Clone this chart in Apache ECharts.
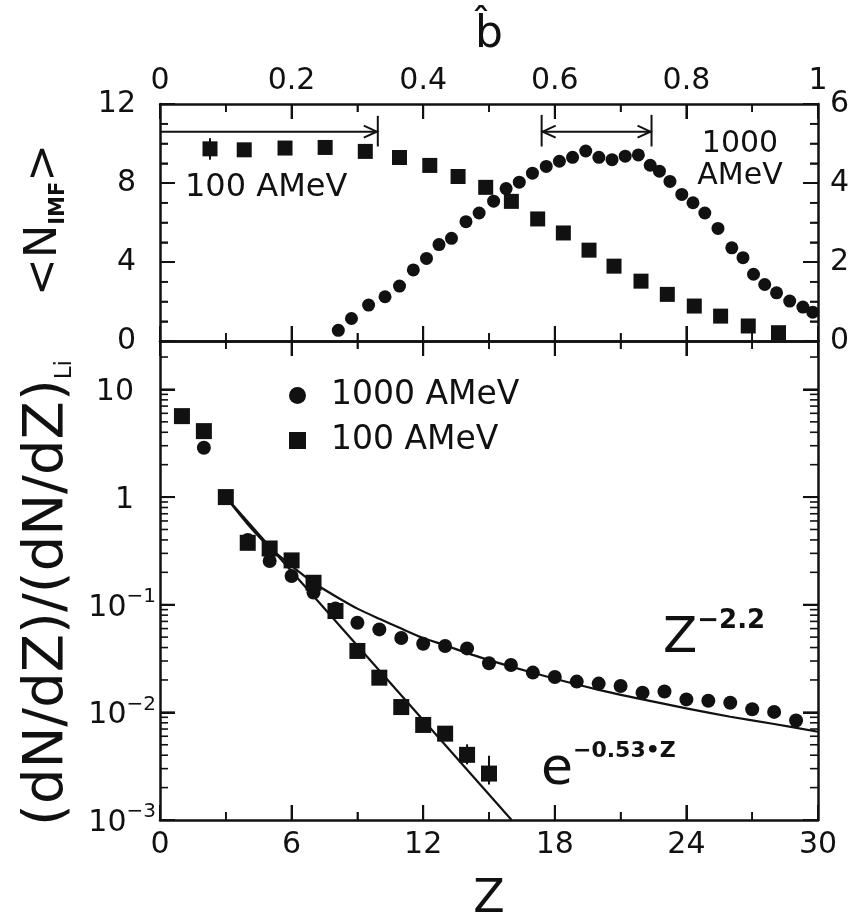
<!DOCTYPE html>
<html><head><meta charset="utf-8">
<script src="https://cdn.jsdelivr.net/npm/echarts@6/dist/echarts.min.js"></script>
<style>html,body{margin:0;padding:0;background:#fff}#c{width:858px;height:919px}</style>
</head><body><div id="c"></div>
<script>
// ---------- top panel: <N_IMF> vs reduced impact parameter ----------
const bImpact100 = [0.076,0.128,0.190,0.251,0.312,0.364,0.410,0.453,0.495,0.534,0.574,0.613,0.652,0.690,0.731,0.771,0.812,0.852,0.894,0.940];
const nImf100    = [9.73,9.68,9.77,9.80,9.60,9.29,8.89,8.33,7.78,7.07,6.18,5.47,4.60,3.79,3.03,2.36,1.77,1.26,0.76,0.42];
const bImpact1000 = [0.271,0.291,0.317,0.342,0.364,0.385,0.405,0.424,0.443,0.465,0.485,0.507,0.526,0.546,0.566,0.587,0.607,0.627,0.647,0.667,0.687,0.707,0.727,0.745,0.759,0.775,0.793,0.810,0.828,0.848,0.869,0.886,0.902,0.919,0.937,0.957,0.977,0.992];
const nImf1000    = [0.27,0.57,0.91,1.12,1.39,1.80,2.09,2.44,2.60,3.02,3.24,3.54,3.86,4.02,4.25,4.42,4.55,4.65,4.81,4.65,4.59,4.68,4.71,4.45,4.30,4.04,3.71,3.50,3.24,2.85,2.36,2.11,1.69,1.43,1.22,1.01,0.86,0.73];
const errTopB  = [0.076];
const errTopLo = [9.18];
const errTopHi = [10.27];
// impact-parameter range arrows (left-axis units)
const arrowFrom   = [0.0, 0.58];
const arrowTo     = [0.331, 0.747];
const arrowLevel  = [10.6, 10.6];
const arrowBarLo  = [9.85, 9.85];
const arrowBarHi  = [11.4, 11.45];
const arrowDouble = [false, true];

// ---------- bottom panel: (dN/dZ)/(dN/dZ)_Li vs Z ----------
const zCharge100 = [1,2,3,4,5,6,7,8,9,10,11,12,13,14,15];
const ratio100   = [5.65,4.1,1.0,0.376,0.333,0.258,0.16,0.0874,0.0372,0.021,0.0112,0.00764,0.00634,0.00403,0.0027];
const zCharge1000 = [2,3,4,5,6,7,8,9,10,11,12,13,14,15,16,17,18,19,20,21,22,23,24,25,26,27,28,29];
const ratio1000   = [2.87,0.98,0.40,0.255,0.185,0.13,0.092,0.068,0.059,0.049,0.0434,0.0413,0.0393,0.0286,0.0275,0.0234,0.0213,0.0193,0.0185,0.0176,0.0152,0.0156,0.0132,0.0128,0.0123,0.0107,0.0101,0.0084];
const errZ100  = [14, 15];
const errLo100 = [0.00329, 0.00214];
const errHi100 = [0.00505, 0.00396];
const expFitZ     = [3, 16.03];
const expFitRatio = [1.0, 0.001];
const powFitZ     = [3, 4, 5, 6, 7, 8, 9, 10, 11, 12, 13, 14, 15, 16, 18, 20, 22, 24, 26, 28, 30];
const powFitRatio = [1.0, 0.56, 0.34, 0.23, 0.16, 0.12, 0.092, 0.074, 0.060, 0.049, 0.042, 0.0355, 0.0306, 0.0266, 0.0205, 0.0162, 0.0132, 0.0109, 0.0091, 0.0078, 0.0066];

// ---------- ticks and tick labels ----------
const bTickValues = [0, 0.2, 0.4, 0.6, 0.8, 1];
const bTickLabels = ['0', '0.2', '0.4', '0.6', '0.8', '1'];
const bMinorTicks = [0.1, 0.3, 0.5, 0.7, 0.9];
const zTickValues = [0, 6, 12, 18, 24, 30];
const zTickLabels = ['0', '6', '12', '18', '24', '30'];
const zMinorTicks = [3, 9, 15, 21, 27];
const nLeftTickValues  = [0, 4, 8, 12];
const nLeftTickLabels  = ['0', '4', '8', '12'];
const nMinorTicks      = [1, 2, 3, 5, 6, 7, 9, 10, 11];
const nRightTickValues = [0, 2, 4, 6];
const nRightTickLabels = ['0', '2', '4', '6'];
const logTickExps  = [-3, -2, -1, 0, 1];
const logTickBase  = ['10', '10', '10', '1', '10'];
const logTickSup   = ['\u22123', '\u22122', '\u22121', '', ''];
const logMinorTicks = [0.002,0.003,0.004,0.005,0.006,0.007,0.008,0.009,
  0.02,0.03,0.04,0.05,0.06,0.07,0.08,0.09,
  0.2,0.3,0.4,0.5,0.6,0.7,0.8,0.9,
  2,3,4,5,6,7,8,9,20];
const ratioMin = 0.001;
const decadeSpan = 4.45;   // the ratio axis runs from 10^-3 up to about 28

const FONT = 'DejaVu Sans';
const INK = '#111';
// position on the ratio axis: number of decades above ratioMin
const dec = v => Math.log10(v / ratioMin);
const decExp = Math.round(Math.log10(ratioMin));
const decMajorTicks = logTickExps.map(e => e - decExp);

function lookup(vals, labels, v) {
  for (let i = 0; i < vals.length; i++) if (Math.abs(vals[i] - v) < 1e-6) return labels[i];
  return '';
}
function axisBase(extra) {
  return Object.assign({
    type: 'value',
    axisLine: { show: true, onZero: false, lineStyle: { color: INK, width: 2.5 } },
    axisTick: { show: true, inside: true, length: 15, lineStyle: { color: INK, width: 2 } },
    minorTick: { show: true, splitNumber: 2, length: 8, lineStyle: { color: INK, width: 1.6 } },
    splitLine: { show: false },
    axisLabel: { show: false }
  }, extra);
}
const labelStyle = { show: true, color: INK, fontFamily: FONT, fontSize: 30 };
const yMinor4 = { show: true, splitNumber: 4, length: 8, lineStyle: { color: INK, width: 1.6 } };

// tick marks drawn along the frame of a grid, through that grid's axes
function tickSeries(xi, yi, dir, vals, xExt, yExt, len, w) {
  return {
    type: 'custom', xAxisIndex: xi, yAxisIndex: yi, clip: false, silent: true, z: 5,
    data: vals.map(v => dir === 'x' ? [v, yExt[0]] : [xExt[0], v]),
    renderItem: (params, api) => {
      const st = { fill: INK };
      if (dir === 'x') {
        const v = api.value(0);
        const b = api.coord([v, yExt[0]]), t = api.coord([v, yExt[1]]);
        return { type: 'group', children: [
          { type: 'rect', shape: { x: b[0] - w / 2, y: b[1] - len, width: w, height: len }, style: st },
          { type: 'rect', shape: { x: t[0] - w / 2, y: t[1], width: w, height: len }, style: st }
        ] };
      }
      const v = api.value(1);
      const l = api.coord([xExt[0], v]), r = api.coord([xExt[1], v]);
      return { type: 'group', children: [
        { type: 'rect', shape: { x: l[0], y: l[1] - w / 2, width: len, height: w }, style: st },
        { type: 'rect', shape: { x: r[0] - len, y: r[1] - w / 2, width: len, height: w }, style: st }
      ] };
    }
  };
}

const chart = echarts.init(document.getElementById('c'));

chart.setOption({
  animation: false,
  grid: [
    { left: 160, top: 104, width: 658, height: 237, outerBoundsMode: 'none', containLabel: false },
    { left: 160, top: 341, width: 658, height: 479, outerBoundsMode: 'none', containLabel: false }
  ],
  xAxis: [
    axisBase({ gridIndex: 0, position: 'top', min: 0, max: 1, interval: 0.2,
      axisLabel: Object.assign({}, labelStyle, { margin: 8, formatter: v => lookup(bTickValues, bTickLabels, v) }),
      name: 'b\u0302', nameLocation: 'middle', nameGap: 46,
      nameTextStyle: { color: INK, fontFamily: FONT, fontSize: 44 } }),
    axisBase({ gridIndex: 0, position: 'bottom', min: 0, max: 1, interval: 0.2 }),
    axisBase({ gridIndex: 1, position: 'bottom', min: 0, max: 30, interval: 6,
      axisLabel: Object.assign({}, labelStyle, { margin: 10, formatter: v => lookup(zTickValues, zTickLabels, v) }) }),
    axisBase({ gridIndex: 1, position: 'top', min: 0, max: 30, interval: 6 })
  ],
  yAxis: [
    axisBase({ gridIndex: 0, position: 'left', min: 0, max: 12, interval: 4, minorTick: yMinor4,
      axisLabel: Object.assign({}, labelStyle, { margin: 24, formatter: v => lookup(nLeftTickValues, nLeftTickLabels, v) }) }),
    axisBase({ gridIndex: 0, position: 'right', min: 0, max: 6, interval: 2, minorTick: yMinor4,
      axisLabel: Object.assign({}, labelStyle, { margin: 12, formatter: v => lookup(nRightTickValues, nRightTickLabels, v) }) }),
    axisBase({ gridIndex: 1, position: 'left', min: 0, max: decadeSpan, interval: 1,
      minorTick: { show: false },
      axisTick: { show: true, inside: true, length: 15, customValues: decMajorTicks, lineStyle: { color: INK, width: 2 } },
      axisLabel: {
        show: true, color: INK, fontFamily: FONT, fontSize: 30, margin: 4, customValues: decMajorTicks,
        formatter: v => {
          const k = Math.round(v);
          if (Math.abs(v - k) > 0.01) return '';
          const i = logTickExps.indexOf(k + decExp);
          if (i < 0) return '';
          return '{b|' + logTickBase[i] + '}' + (logTickSup[i] ? '{s|' + logTickSup[i] + '}' : '{e| }');
        },
        rich: {
          b: { fontFamily: FONT, fontSize: 30, color: INK, lineHeight: 36, verticalAlign: 'bottom' },
          s: { fontFamily: FONT, fontSize: 20, color: INK, lineHeight: 20, verticalAlign: 'top' },
          e: { fontFamily: FONT, fontSize: 20, width: 22 }
        }
      } }),
    axisBase({ gridIndex: 1, position: 'right', min: 0, max: decadeSpan, interval: 1,
      minorTick: { show: false },
      axisTick: { show: true, inside: true, length: 15, customValues: decMajorTicks, lineStyle: { color: INK, width: 2 } } })
  ],
  legend: {
    orient: 'vertical', left: 284, top: 374, itemWidth: 17, itemHeight: 17, itemGap: 12,
    data: [{ name: '1000 AMeV', icon: 'circle' }, { name: '100 AMeV', icon: 'rect' }],
    formatter: n => '{g| }' + n,
    textStyle: { color: INK, fontFamily: FONT, fontSize: 33, rich: { g: { width: 20, fontSize: 10 } } }
  },
  series: [
    // ----- frame ticks -----
    tickSeries(0, 0, 'x', bTickValues, [0, 1], [0, 12], 15, 2),
    tickSeries(0, 0, 'x', bMinorTicks, [0, 1], [0, 12], 8, 1.6),
    tickSeries(0, 0, 'y', nLeftTickValues, [0, 1], [0, 12], 15, 2),
    tickSeries(0, 0, 'y', nMinorTicks, [0, 1], [0, 12], 8, 1.6),
    tickSeries(2, 2, 'x', zTickValues, [0, 30], [0, decadeSpan], 15, 2),
    tickSeries(2, 2, 'x', zMinorTicks, [0, 30], [0, decadeSpan], 8, 1.6),
    tickSeries(2, 2, 'y', decMajorTicks, [0, 30], [0, decadeSpan], 15, 2),
    tickSeries(2, 2, 'y', logMinorTicks.map(dec), [0, 30], [0, decadeSpan], 8, 1.6),

    // ----- top panel -----
    { type: 'custom', name: 'arrows', xAxisIndex: 0, yAxisIndex: 0, clip: false, silent: true,
      data: arrowFrom.map((f, i) => [f, arrowLevel[i]]),
      renderItem: (params, api) => {
        const i = params.dataIndex;
        const p1 = api.coord([arrowFrom[i], arrowLevel[i]]);
        const p2 = api.coord([arrowTo[i], arrowLevel[i]]);
        const st = { stroke: INK, lineWidth: 2, fill: null };
        const ch = [
          { type: 'line', shape: { x1: p1[0], y1: p1[1], x2: p2[0], y2: p2[1] }, style: st },
          { type: 'polyline', shape: { points: [[p2[0] - 14, p2[1] - 6], [p2[0] - 1, p2[1]], [p2[0] - 14, p2[1] + 6]] }, style: st }
        ];
        const b2lo = api.coord([arrowTo[i], arrowBarLo[i]]), b2hi = api.coord([arrowTo[i], arrowBarHi[i]]);
        ch.push({ type: 'line', shape: { x1: b2lo[0], y1: b2lo[1], x2: b2hi[0], y2: b2hi[1] }, style: st });
        if (arrowDouble[i]) {
          ch.push({ type: 'polyline', shape: { points: [[p1[0] + 14, p1[1] - 6], [p1[0] + 1, p1[1]], [p1[0] + 14, p1[1] + 6]] }, style: st });
          const b1lo = api.coord([arrowFrom[i], arrowBarLo[i]]), b1hi = api.coord([arrowFrom[i], arrowBarHi[i]]);
          ch.push({ type: 'line', shape: { x1: b1lo[0], y1: b1lo[1], x2: b1hi[0], y2: b1hi[1] }, style: st });
        }
        return { type: 'group', children: ch };
      } },
    { type: 'custom', name: 'errTop', xAxisIndex: 0, yAxisIndex: 0, clip: false, silent: true,
      data: errTopB.map((b, i) => [b, errTopLo[i], errTopHi[i]]),
      renderItem: (params, api) => {
        const lo = api.coord([api.value(0), api.value(1)]), hi = api.coord([api.value(0), api.value(2)]);
        return { type: 'line', shape: { x1: lo[0], y1: lo[1], x2: hi[0], y2: hi[1] }, style: { stroke: INK, lineWidth: 2 } };
      } },
    { type: 'scatter', name: '1000 AMeV', xAxisIndex: 0, yAxisIndex: 1, symbol: 'circle', symbolSize: 13,
      itemStyle: { color: INK, opacity: 1 }, data: bImpact1000.map((b, i) => [b, nImf1000[i]]) },
    { type: 'scatter', name: '100 AMeV', xAxisIndex: 0, yAxisIndex: 0, symbol: 'rect', symbolSize: 15,
      itemStyle: { color: INK, opacity: 1 }, data: bImpact100.map((b, i) => [b, nImf100[i]]) },

    // ----- bottom panel -----
    { type: 'line', name: 'expFit', xAxisIndex: 2, yAxisIndex: 2, showSymbol: false, silent: true,
      lineStyle: { color: INK, width: 2.2 }, data: expFitZ.map((z, i) => [z, dec(expFitRatio[i])]) },
    { type: 'line', name: 'powFit', xAxisIndex: 2, yAxisIndex: 2, showSymbol: false, silent: true,
      smooth: 0.2, lineStyle: { color: INK, width: 2.2 }, data: powFitZ.map((z, i) => [z, dec(powFitRatio[i])]) },
    { type: 'custom', name: 'errBot', xAxisIndex: 2, yAxisIndex: 2, clip: false, silent: true,
      data: errZ100.map((z, i) => [z, dec(errLo100[i]), dec(errHi100[i])]),
      renderItem: (params, api) => {
        const lo = api.coord([api.value(0), api.value(1)]), hi = api.coord([api.value(0), api.value(2)]);
        return { type: 'line', shape: { x1: lo[0], y1: lo[1], x2: hi[0], y2: hi[1] }, style: { stroke: INK, lineWidth: 2 } };
      } },
    { type: 'scatter', name: '1000 AMeV', xAxisIndex: 2, yAxisIndex: 2, symbol: 'circle', symbolSize: 14,
      itemStyle: { color: INK, opacity: 1 }, data: zCharge1000.map((z, i) => [z, dec(ratio1000[i])]) },
    { type: 'scatter', name: '100 AMeV', xAxisIndex: 2, yAxisIndex: 2, symbol: 'rect', symbolSize: 16,
      itemStyle: { color: INK, opacity: 1 }, data: zCharge100.map((z, i) => [z, dec(ratio100[i])]) }
  ],
  graphic: [
    { type: 'text', left: 185, top: 172, style: { text: '100 AMeV', fill: INK, font: '32px "DejaVu Sans"' } },
    { type: 'text', x: 740, y: 160, style: { text: '1000\nAMeV', fill: INK, font: '30px "DejaVu Sans"', align: 'center', verticalAlign: 'middle', lineHeight: 32 } },
    { type: 'text', x: 489, y: 900, style: { text: 'Z', fill: INK, font: '46px "DejaVu Sans"', align: 'center', verticalAlign: 'middle' } },
    { type: 'text', x: 44, y: 220, rotation: Math.PI / 2,
      style: { text: '<N{sub|IMF}>', fill: INK, font: '45px "DejaVu Sans"', lineHeight: 50, align: 'center', verticalAlign: 'middle',
        rich: { sub: { fontFamily: FONT, fontSize: 21, fontWeight: 'bold', fill: INK, lineHeight: 22, verticalAlign: 'bottom' } } } },
    { type: 'text', x: 47, y: 593, rotation: Math.PI / 2,
      style: { text: '(dN/dZ)/(dN/dZ){sub|Li}', fill: INK, font: '56px "DejaVu Sans"', lineHeight: 60, align: 'center', verticalAlign: 'middle',
        rich: { sub: { fontFamily: FONT, fontSize: 23, fill: INK, lineHeight: 24, verticalAlign: 'bottom' } } } },
    { type: 'text', x: 663, y: 636,
      style: { text: '{b|Z}{s|\u22122.2}', fill: INK, align: 'left', verticalAlign: 'middle',
        rich: { b: { fontFamily: FONT, fontSize: 50, fill: INK, lineHeight: 56, verticalAlign: 'bottom' },
                s: { fontFamily: FONT, fontSize: 26, fontWeight: 'bold', fill: INK, lineHeight: 26, verticalAlign: 'top' } } } },
    { type: 'text', x: 541, y: 768,
      style: { text: '{b|e}{s|\u22120.53\u2022Z}', fill: INK, align: 'left', verticalAlign: 'middle',
        rich: { b: { fontFamily: FONT, fontSize: 52, fill: INK, lineHeight: 56, verticalAlign: 'bottom' },
                s: { fontFamily: FONT, fontSize: 22, fontWeight: 'bold', fill: INK, lineHeight: 24, verticalAlign: 'top' } } } }
  ]
});
</script>
</body></html>
